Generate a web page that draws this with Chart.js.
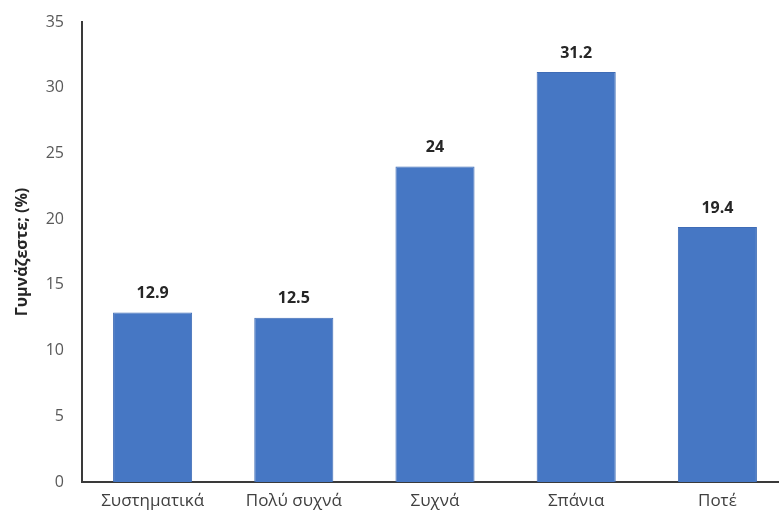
<!DOCTYPE html>
<html lang="el">
<head>
    <meta charset="UTF-8">
    <title>Γυμνάζεστε;</title>
    <script src="https://cdn.jsdelivr.net/npm/chart.js"></script>
    <style>
        body {
            margin: 0;
            background-color: #ffffff;
            overflow: hidden;
        }
        .chart-container {
            position: relative;
            width: 790px;
            height: 518px;
        }
    </style>
</head>
<body>
    <div class="chart-container">
        <canvas id="exerciseChart"></canvas>
    </div>
    <script>
        const categories = ["Συστηματικά", "Πολύ συχνά", "Συχνά", "Σπάνια", "Ποτέ"];
        const percentages = [12.9, 12.5, 24, 31.2, 19.4];
        const yTicks = [0, 5, 10, 15, 20, 25, 30, 35];

        const fontFamily = "'Open Sans', 'Noto Sans', sans-serif";

        // value labels above each bar, taken from the dataset
        const valueLabels = {
            id: 'valueLabels',
            afterDatasetsDraw(chart) {
                const ctx = chart.ctx;
                const meta = chart.getDatasetMeta(0);
                ctx.save();
                ctx.font = "bold 16px " + fontFamily;
                ctx.fillStyle = '#262626';
                ctx.textAlign = 'center';
                ctx.textBaseline = 'middle';
                meta.data.forEach((bar, i) => {
                    ctx.fillText(String(chart.data.datasets[0].data[i]), bar.x, bar.y - 19);
                });
                ctx.restore();
            }
        };

        new Chart(document.getElementById('exerciseChart'), {
            type: 'bar',
            data: {
                labels: categories,
                datasets: [{
                    data: percentages,
                    backgroundColor: '#4677c4',
                    borderColor: '#3f6cb6',
                    borderWidth: 1,
                    categoryPercentage: 1,
                    barPercentage: 0.56
                }]
            },
            options: {
                responsive: true,
                maintainAspectRatio: false,
                animation: false,
                layout: {
                    padding: { top: 22, right: 2, bottom: 0, left: 0 }
                },
                plugins: {
                    legend: { display: false },
                    tooltip: { enabled: false }
                },
                scales: {
                    x: {
                        grid: { display: false, drawTicks: false, tickLength: 0 },
                        border: { display: true, color: '#3a3a3a', width: 2 },
                        ticks: {
                            color: '#404040',
                            padding: 9,
                            font: { family: fontFamily, size: 17 }
                        },
                        afterFit(scale) {
                            scale.height = 36;
                            scale.paddingLeft = 0;
                            scale.paddingRight = 0;
                        }
                    },
                    y: {
                        min: 0,
                        max: 35,
                        afterBuildTicks(scale) {
                            scale.ticks = yTicks.map(v => ({ value: v }));
                        },
                        grid: { display: false, drawTicks: false, tickLength: 0 },
                        border: { display: true, color: '#3a3a3a', width: 2 },
                        ticks: {
                            color: '#595959',
                            padding: 18,
                            font: { family: fontFamily, size: 16 }
                        },
                        title: {
                            display: true,
                            text: 'Γυμνάζεστε; (%)',
                            color: '#262626',
                            padding: { top: 13, bottom: 0 },
                            font: { family: fontFamily, size: 16, weight: 'bold' }
                        },
                        afterFit(scale) {
                            scale.width = 82;
                            scale.paddingTop = 0;
                            scale.paddingBottom = 0;
                        }
                    }
                }
            },
            plugins: [valueLabels]
        });
    </script>
</body>
</html>
